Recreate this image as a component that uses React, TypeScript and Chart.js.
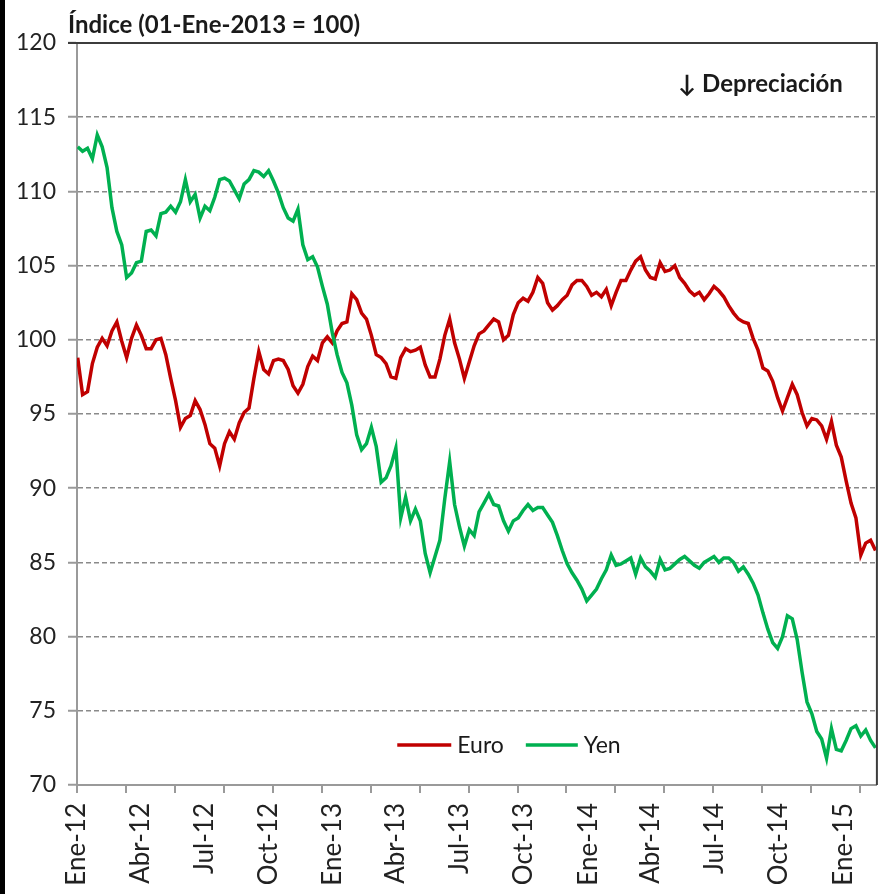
import React, { useEffect, useRef } from "react";
import { Chart, registerables } from "chart.js";

Chart.register(...registerables);

const FONT = "Lato, 'Open Sans', 'DejaVu Sans', sans-serif";

const titleText = "Índice (01-Ene-2013 = 100)";
const noteText = "↓ Depreciación";
const seriesNames = ["Euro", "Yen"];
const seriesColors = ["#C00000", "#00B050"];

// quarter labels and their day offsets from 01-Jan-2012
const quarterLabels = ["Ene-12", "Abr-12", "Jul-12", "Oct-12", "Ene-13", "Abr-13", "Jul-13", "Oct-13", "Ene-14", "Abr-14", "Jul-14", "Oct-14", "Ene-15"];
const quarterDays = [0, 91, 182, 274, 366, 456, 547, 639, 731, 821, 912, 1004, 1096];
// axis tick marks (every 50 business days)
const tickMarkDays = [0, 70, 140, 210, 280, 350, 420, 490, 560, 630, 700, 770, 840, 910, 980, 1050, 1120];
const yTicks = [70, 75, 80, 85, 90, 95, 100, 105, 110, 115, 120];
const xMaxDay = 1144;

// weekly observations starting Monday 02-Jan-2012
const euro = [
  98.8, 96.3, 96.5, 98.4, 99.5, 100.1, 99.6, 100.6, 101.2, 99.9,
  98.8, 100.1, 101.0, 100.3, 99.4, 99.4, 100.0, 100.1, 99.0, 97.4,
  95.9, 94.1, 94.7, 94.9, 95.9, 95.3, 94.3, 93.0, 92.7, 91.5,
  93.0, 93.8, 93.3, 94.4, 95.1, 95.4, 97.4, 99.2, 98.0, 97.7,
  98.6, 98.7, 98.6, 98.0, 96.9, 96.4, 97.0, 98.2, 98.9, 98.6,
  99.8, 100.2, 99.8, 100.6, 101.1, 101.2, 103.1, 102.7, 101.8, 101.4,
  100.3, 99.0, 98.8, 98.4, 97.5, 97.4, 98.8, 99.4, 99.2, 99.3,
  99.5, 98.3, 97.5, 97.5, 98.7, 100.3, 101.4, 99.8, 98.7, 97.4,
  98.5, 99.6, 100.4, 100.6, 101.0, 101.4, 101.2, 100.0, 100.3, 101.7,
  102.5, 102.8, 102.6, 103.2, 104.2, 103.8, 102.5, 102.0, 102.3, 102.7,
  103.0, 103.7, 104.0, 104.0, 103.6, 103.0, 103.2, 102.9, 103.4, 102.3,
  103.2, 104.0, 104.0, 104.7, 105.3, 105.6, 104.7, 104.2, 104.1, 105.2,
  104.6, 104.7, 105.0, 104.2, 103.8, 103.3, 103.0, 103.2, 102.7, 103.1,
  103.6, 103.3, 102.9, 102.3, 101.8, 101.4, 101.2, 101.1, 100.1, 99.3,
  98.1, 97.9, 97.2, 96.1, 95.2, 96.1, 97.0, 96.3, 95.1, 94.2,
  94.7, 94.6, 94.2, 93.3, 94.5, 92.9, 92.1, 90.5, 89.0, 88.0,
  85.5, 86.3, 86.5, 85.8,
];

const yen = [
  113.0, 112.7, 112.9, 112.2, 113.8, 113.0, 111.6, 108.9, 107.3, 106.4,
  104.2, 104.5, 105.2, 105.3, 107.3, 107.4, 107.0, 108.5, 108.6, 109.0,
  108.6, 109.3, 110.8, 109.3, 109.8, 108.2, 109.0, 108.7, 109.6, 110.8,
  110.9, 110.7, 110.1, 109.5, 110.5, 110.8, 111.4, 111.3, 111.0, 111.4,
  110.7, 109.9, 108.9, 108.2, 108.0, 108.8, 106.4, 105.4, 105.6, 104.9,
  103.6, 102.4, 100.5, 99.0, 97.8, 97.1, 95.6, 93.6, 92.6, 93.0,
  94.1, 92.8, 90.4, 90.7, 91.5, 92.7, 88.0, 89.4, 87.8, 88.6,
  87.8, 85.6, 84.3, 85.4, 86.5, 89.3, 91.8, 88.9, 87.4, 86.1,
  87.2, 86.8, 88.4, 89.0, 89.6, 88.9, 88.8, 87.8, 87.1, 87.8,
  88.0, 88.5, 88.9, 88.5, 88.7, 88.7, 88.2, 87.7, 86.8, 85.8,
  84.9, 84.3, 83.8, 83.2, 82.4, 82.8, 83.2, 83.9, 84.5, 85.5,
  84.8, 84.9, 85.1, 85.3, 84.2, 85.3, 84.7, 84.4, 84.0, 85.2,
  84.5, 84.6, 84.9, 85.2, 85.4, 85.1, 84.8, 84.6, 85.0, 85.2,
  85.4, 85.0, 85.3, 85.3, 85.0, 84.4, 84.7, 84.2, 83.6, 82.8,
  81.6, 80.5, 79.6, 79.2, 80.0, 81.4, 81.2, 79.8, 77.6, 75.6,
  74.8, 73.6, 73.1, 71.8, 73.8, 72.4, 72.3, 73.0, 73.8, 74.0,
  73.3, 73.7, 73.0, 72.5,
];

// day offset (from 01-Jan-2012) of each weekly observation
const weekDays = euro.map((_, i) => 1 + 7 * i);

const overlayPlugin = {
  id: "overlay",
  beforeDraw(chart: any) {
    const c = chart.ctx;
    c.save();
    c.fillStyle = "#ffffff";
    c.fillRect(0, 0, chart.width, chart.height);
    c.fillStyle = "#000000";
    c.fillRect(0, 0, 5, chart.height);
    c.restore();
  },
  afterDraw(chart: any) {
    const c = chart.ctx;
    const a = chart.chartArea;
    const xs = chart.scales.x;
    c.save();
    // x tick marks
    c.strokeStyle = "#9a9a9a";
    c.lineWidth = 2;
    tickMarkDays.forEach((d) => {
      const px = Math.round(xs.getPixelForValue(d));
      c.beginPath();
      c.moveTo(px, a.bottom);
      c.lineTo(px, a.bottom + 8);
      c.stroke();
    });
    // frame top/right
    c.strokeStyle = "#3c3c3c";
    c.lineWidth = 2;
    c.beginPath();
    c.moveTo(a.left - 9, a.top);
    c.lineTo(a.right, a.top);
    c.lineTo(a.right, a.bottom);
    c.stroke();
    // title
    c.fillStyle = "#1a1a1a";
    c.font = `bold 24px ${FONT}`;
    c.textBaseline = "alphabetic";
    c.textAlign = "left";
    c.fillText(titleText, a.left - 9, a.top - 10);
    // note
    c.textAlign = "right";
    c.fillText(noteText, a.right - 34, a.top + 49);
    // legend
    c.font = `23px ${FONT}`;
    c.textAlign = "left";
    c.textBaseline = "middle";
    const lineLens = [54, 52];
    const widths = seriesNames.map((n) => c.measureText(n).width);
    const total = lineLens[0] + 6 + widths[0] + 22 + lineLens[1] + 6 + widths[1];
    let x = a.left + (a.right - a.left) * 0.54 - total / 2;
    const ly = a.bottom - 40;
    seriesNames.forEach((n, i) => {
      c.strokeStyle = seriesColors[i];
      c.lineWidth = 3.5;
      c.beginPath();
      c.moveTo(x, ly);
      c.lineTo(x + lineLens[i], ly);
      c.stroke();
      x += lineLens[i] + 6;
      c.fillStyle = "#1a1a1a";
      c.fillText(n, x, ly + 1);
      x += widths[i] + 22;
    });
    c.restore();
  },
};

export default function App() {
  const ref = useRef<HTMLCanvasElement | null>(null);
  useEffect(() => {
    if (!ref.current) return;
    const chart = new Chart(ref.current, {
      type: "line",
      data: {
        datasets: [
          {
            label: seriesNames[0],
            data: weekDays.map((d, i) => ({ x: d, y: euro[i] })),
            borderColor: seriesColors[0],
            backgroundColor: seriesColors[0],
            borderWidth: 3.5,
            pointRadius: 0,
            tension: 0,
            order: 1,
          },
          {
            label: seriesNames[1],
            data: weekDays.map((d, i) => ({ x: d, y: yen[i] })),
            borderColor: seriesColors[1],
            backgroundColor: seriesColors[1],
            borderWidth: 3.5,
            pointRadius: 0,
            tension: 0,
            order: 0,
          },
        ],
      },
      options: {
        animation: false,
        responsive: false,
        devicePixelRatio: 1,
        layout: { padding: { top: 43, right: 11, left: 0, bottom: 0 } },
        plugins: { legend: { display: false }, tooltip: { enabled: false }, title: { display: false } },
        scales: {
          x: {
            type: "linear",
            min: 0,
            max: xMaxDay,
            afterFit: (s: any) => {
              s.height = 109;
            },
            afterBuildTicks: (s: any) => {
              s.ticks = quarterDays.map((v) => ({ value: v }));
            },
            ticks: {
              autoSkip: false,
              minRotation: 90,
              maxRotation: 90,
              padding: 18,
              color: "#222222",
              font: { family: FONT, size: 26 },
              callback: (_v: any, i: number) => quarterLabels[i],
            },
            grid: { display: false, drawTicks: false },
            border: { display: true, color: "#9a9a9a", width: 2 },
          },
          y: {
            min: 70,
            max: 120,
            afterFit: (s: any) => {
              s.width = 77;
            },
            afterBuildTicks: (s: any) => {
              s.ticks = yTicks.map((v) => ({ value: v }));
            },
            ticks: { color: "#222222", font: { family: FONT, size: 23 }, padding: 12 },
            grid: {
              color: (ctx: any) =>
                ctx.tick && (ctx.tick.value === 120 || ctx.tick.value === 70) ? "rgba(0,0,0,0)" : "#8a8a8a",
              lineWidth: 1.5,
              tickLength: 9,
              tickColor: "#9a9a9a",
              tickWidth: 2,
            },
            border: {
              display: true,
              color: "#9a9a9a",
              width: 2,
              dash: (ctx: any) => (ctx.tick ? [5, 3] : []),
            },
          },
        },
      },
      plugins: [overlayPlugin],
    } as any);
    return () => chart.destroy();
  }, []);
  return (
    <div style={{ position: "absolute", left: 0, top: 0, width: 893, height: 894, background: "#fff" }}>
      <canvas ref={ref} width={893} height={894} style={{ display: "block" }} />
    </div>
  );
}
